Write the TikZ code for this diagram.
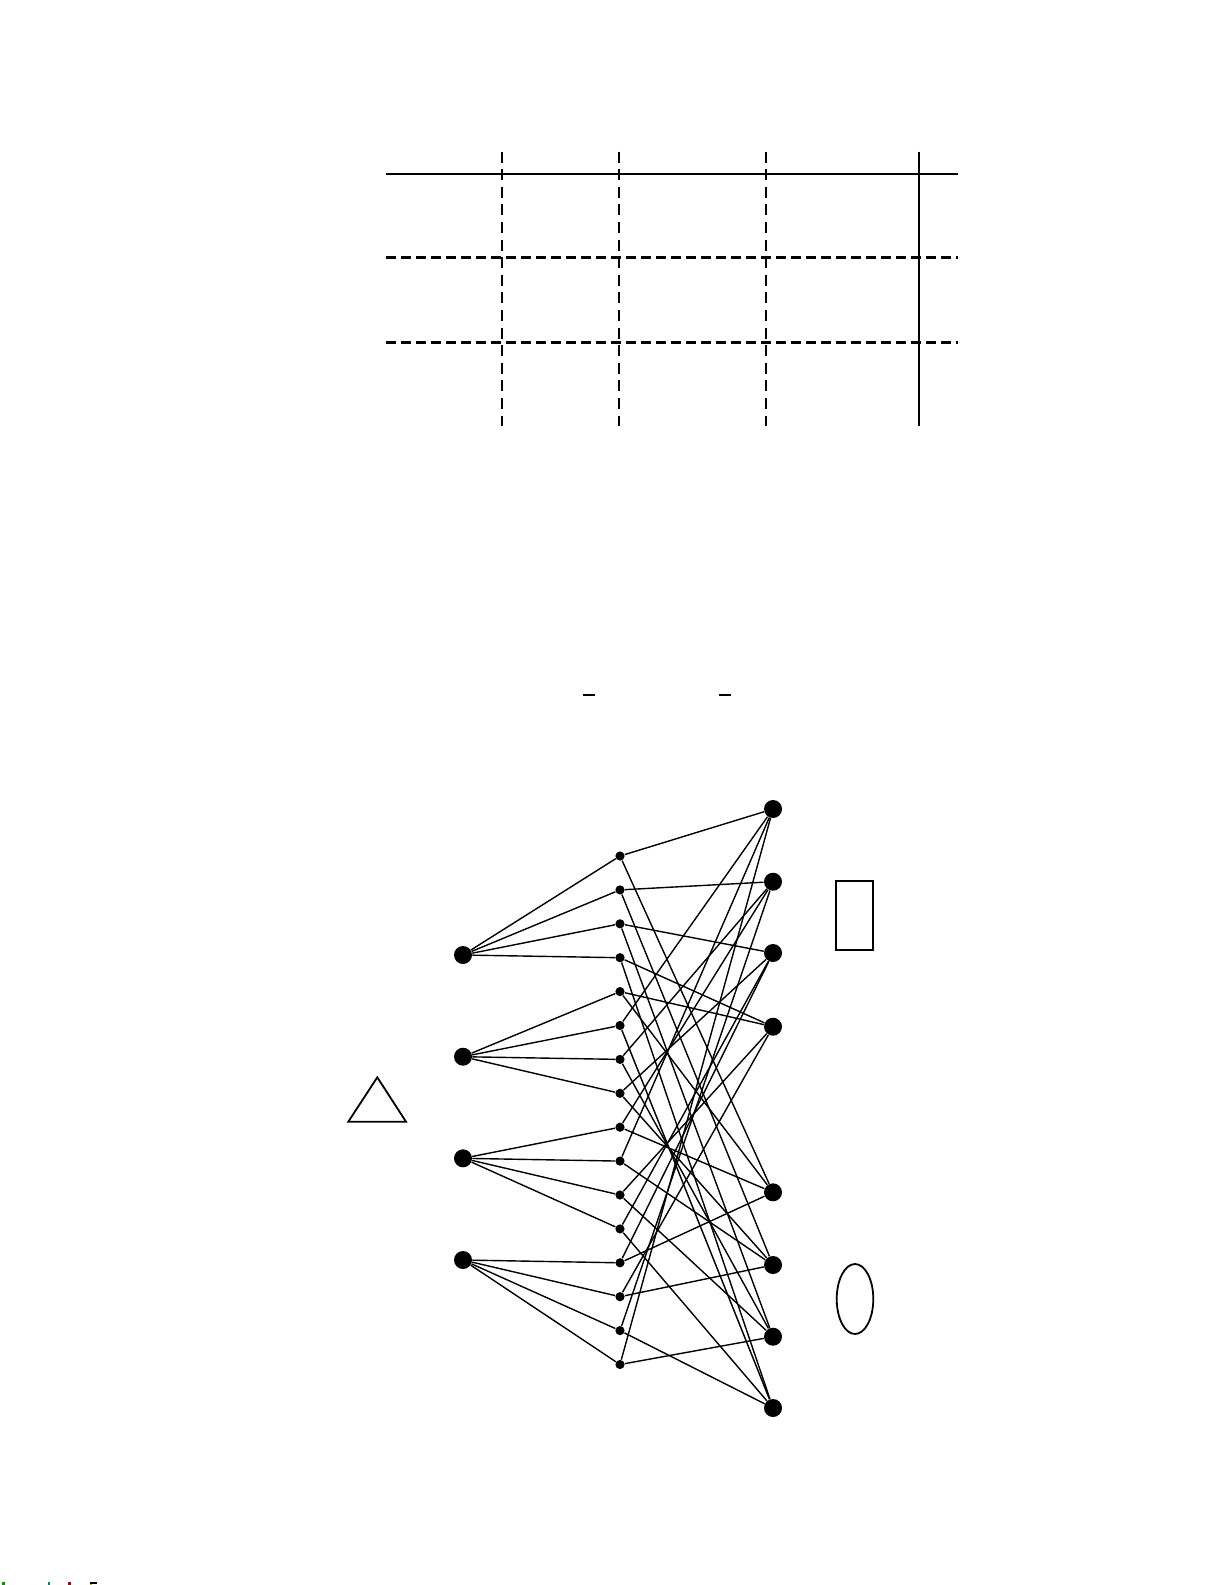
\documentclass[tikz,border=0pt]{standalone}
\usetikzlibrary{shapes.geometric}
\begin{document}
\begin{tikzpicture}[x=0.5pt,y=-0.5pt,
  gridsolid/.style={line width=1.2pt},
  griddashh/.style={line width=1.2pt,dash pattern=on 4.8pt off 2.7pt},
  griddashv/.style={line width=1.2pt,dash pattern=on 5.5pt off 3.3pt},
  bigdot/.style={circle,fill=black,inner sep=0pt,minimum size=9pt},
  smalldot/.style={circle,fill=black,inner sep=0pt,minimum size=4.6pt},
  edgeline/.style={line width=0.7pt},
  outline/.style={line width=0.9pt},
  barline/.style={line width=1.1pt}]
\useasboundingbox[fill=white] (0,0) rectangle (1225,1585);
% table
\draw[gridsolid] (386,174) -- (958,174);
\draw[griddashh] (386,257.5) -- (958,257.5);
\draw[griddashh] (386,342.5) -- (958,342.5);
\foreach \x in {502,619,766} \draw[griddashv] (\x,151.5) -- (\x,426);
\draw[gridsolid] (919,151.5) -- (919,426);
% bars
\draw[barline] (582.5,695) -- (595,695);
\draw[barline] (719,695) -- (731,695);
% graph nodes
\foreach \i/\y in {1/955,2/1056.7,3/1158.3,4/1260}
  \node[bigdot] (L\i) at (463,\y) {};
\foreach \i in {1,...,16}
  \node[smalldot] (M\i) at (620,{856+(\i-1)*33.9}) {};
\foreach \i/\y in {1/809,2/881.7,3/953,4/1026.7,5/1192.3,6/1265,7/1336.7,8/1408}
  \node[bigdot] (R\i) at (773,\y) {};
% left edges
\foreach \l/\m in {1/1,1/2,1/3,1/4,2/5,2/6,2/7,2/8,3/9,3/10,3/11,3/12,4/13,4/14,4/15,4/16}
  \draw[edgeline] (L\l) -- (M\m);
% middle-right edges
\foreach \m/\a/\b in {1/1/5,2/2/6,3/3/7,4/4/8,5/4/5,6/1/8,7/2/7,8/3/6,9/2/5,10/1/6,11/4/7,12/3/8,13/3/5,14/4/6,15/2/8,16/1/7}
  {\draw[edgeline] (M\m) -- (R\a); \draw[edgeline] (M\m) -- (R\b);}
% shapes
\draw[outline] (377.3,1077.3) -- (348.3,1121.7) -- (406,1121.7) -- cycle;
\draw[outline] (835.7,880.7) rectangle (873.3,950);
\draw[outline] (855,1299) ellipse [x radius=9.15pt, y radius=17.5pt];
% specks at the bottom edge
\fill[green!60!black] (2,1582) rectangle (5,1585);
\fill[teal] (48,1582) rectangle (50,1585);
\fill[red!70!black] (68,1582) rectangle (71,1585);
\fill[black] (90,1582) rectangle (97,1583.5);
\fill[yellow!70!black] (90,1583.5) rectangle (92,1585);
\end{tikzpicture}
\end{document}
